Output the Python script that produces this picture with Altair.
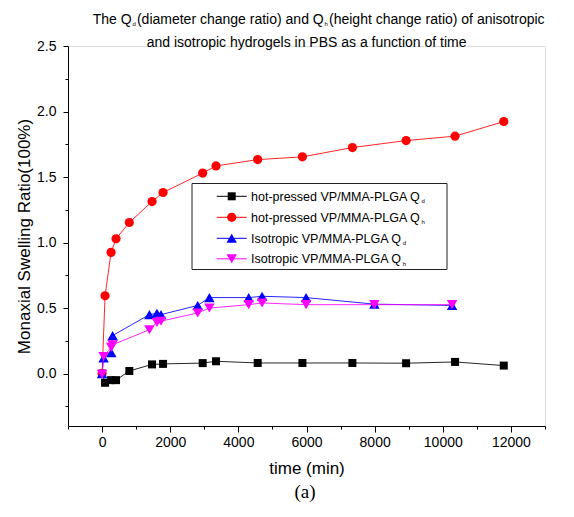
import altair as alt
import pandas as pd

# ---------------- data ----------------
hp_t = [0, 88, 264, 410, 800, 1467, 1790, 2953, 3345, 4568, 5880, 7347, 8923, 10360, 11790]
hp_qd = [0.0, -0.07, -0.05, -0.05, 0.02, 0.07, 0.074, 0.08, 0.094, 0.081, 0.081, 0.081, 0.079, 0.089, 0.061]
hp_qh = [0.0, 0.594, 0.925, 1.029, 1.153, 1.313, 1.382, 1.530, 1.585, 1.633, 1.654, 1.725, 1.778, 1.812, 1.923]

iso_t = [0, 45, 270, 310, 1390, 1610, 1730, 2807, 3150, 4303, 4696, 5988, 7992, 10273]
iso_qd = [0.0, 0.12, 0.16, 0.29, 0.45, 0.46, 0.45, 0.52, 0.58, 0.58, 0.59, 0.58, 0.53, 0.52]
iso_qh = [-0.005, 0.13, 0.20, 0.22, 0.335, 0.39, 0.40, 0.463, 0.50, 0.526, 0.539, 0.526, 0.526, 0.526]

series_main = ["hot-pressed VP/MMA-PLGA Q", "hot-pressed VP/MMA-PLGA Q",
               "Isotropic VP/MMA-PLGA Q", "Isotropic VP/MMA-PLGA Q"]
series_sub = ["d", "h", "d", "h"]
series_ids = ["hp_qd", "hp_qh", "iso_qd", "iso_qh"]
series_t = [hp_t, hp_t, iso_t, iso_t]
series_v = [hp_qd, hp_qh, iso_qd, iso_qh]
colors = ["#000000", "#ff0000", "#0000ff", "#ff00ff"]
shapes = ["square", "circle", "triangle-up", "triangle-down"]
sizes = [64, 85, 110, 110]

title1 = [("The Q", False), ("d", True), ("(diameter change ratio) and Q", False), ("h", True),
          ("(height change ratio) of anisotropic", False)]
title2 = "and isotropic hydrogels in PBS as a function of time"
x_title = "time (min)"
y_title = "Monaxial Swelling Ratio(100%)"
caption = "(a)"

FONT = "Liberation Sans, Arial, sans-serif"

# Arial advance widths (per 1000 em) for text layout of subscripts
AW = {' ': 278, '(': 333, ')': 333, '%': 889, '-': 333, '.': 278, '/': 278,
      'A': 667, 'B': 667, 'C': 722, 'D': 722, 'G': 778, 'I': 278, 'L': 556, 'M': 833,
      'P': 667, 'Q': 778, 'R': 722, 'S': 667, 'T': 611, 'V': 667,
      'a': 556, 'b': 556, 'c': 500, 'd': 556, 'e': 556, 'f': 278, 'g': 556, 'h': 556,
      'i': 222, 'l': 222, 'm': 833, 'n': 556, 'o': 556, 'p': 556, 'r': 333, 's': 500,
      't': 278, 'u': 556, 'w': 722, 'x': 500, 'y': 500}
for ch in "0123456789":
    AW[ch] = 556


def tw(s, size):
    return sum(AW.get(c, 556) for c in s) / 1000.0 * size


W, H = 477, 380

xscale = alt.Scale(domain=[-1000, 13000], nice=False, zero=False)
yscale = alt.Scale(domain=[-0.4, 2.5], nice=False, zero=False)

xaxis = alt.Axis(values=list(range(-1000, 13001, 1000)), format="d",
                 labelExpr="datum.value % 2000 == 0 ? datum.label : ''",
                 tickSize={"condition": {"test": "datum.value % 2000 != 0", "value": 3}, "value": 6},
                 grid=False, domainColor="black", tickColor="black", labelColor="black",
                 labelFont=FONT, labelFontSize=14, labelPadding=3,
                 title=x_title, titleFont=FONT, titleFontSize=17, titleFontWeight="normal",
                 titleColor="black", titlePadding=11)
yvals = [i * 0.25 for i in range(-1, 11)]
yaxis = alt.Axis(values=yvals, format=".1f",
                 labelExpr="datum.value % 0.5 == 0 ? datum.label : ''",
                 tickSize={"condition": {"test": "datum.value % 0.5 != 0", "value": 3}, "value": 5},
                 grid=False, domainColor="black", tickColor="black", labelColor="black",
                 labelFont=FONT, labelFontSize=14, labelPadding=7,
                 title=y_title, titleFont=FONT, titleFontSize=17, titleFontWeight="normal",
                 titleColor="black", titlePadding=3)

layers = []
for i, sid in enumerate(series_ids):
    df = pd.DataFrame({"t": series_t[i], "v": series_v[i]})
    enc = dict(x=alt.X("t:Q", scale=xscale, axis=xaxis),
               y=alt.Y("v:Q", scale=yscale, axis=yaxis))
    line = alt.Chart(df).mark_line(color=colors[i], strokeWidth=1, opacity=0.85).encode(**enc)
    pts = alt.Chart(df).mark_point(filled=True, opacity=1, color=colors[i], shape=shapes[i],
                                   size=sizes[i]).encode(**enc)
    layers += [line, pts]

# ---------------- legend (custom, with subscripts) ----------------
box = alt.Chart(pd.DataFrame({"a": [0]})).mark_rect(fill="white", stroke="#222222", strokeWidth=1).encode(
    x=alt.value(124), x2=alt.value(379), y=alt.value(137.5), y2=alt.value(223.5))
layers.append(box)
row_y = [150.3, 171.3, 192.3, 212.8]
LFS = 12.5
for i in range(4):
    one = pd.DataFrame({"main": [series_main[i]], "sub": [series_sub[i]]})
    ry = row_y[i]
    layers.append(alt.Chart(one).mark_rule(color=colors[i], strokeWidth=1).encode(
        x=alt.value(148.7), x2=alt.value(178.7), y=alt.value(ry)))
    layers.append(alt.Chart(one).mark_point(filled=True, opacity=1, color=colors[i], shape=shapes[i],
                                            size=sizes[i]).encode(x=alt.value(163.7), y=alt.value(ry)))
    layers.append(alt.Chart(one).mark_text(align="left", baseline="alphabetic", font=FONT,
                                           fontSize=LFS, color="black").encode(
        x=alt.value(183), y=alt.value(ry + 4.5), text="main:N"))
    sx = 183 + tw(series_main[i], LFS) + 1.0
    layers.append(alt.Chart(one).mark_text(align="left", baseline="alphabetic", font=FONT,
                                           fontSize=6, color="black").encode(
        x=alt.value(sx), y=alt.value(ry + 7), text="sub:N"))

# ---------------- title (two lines, with subscripts) ----------------
TFS, SFS = 14, 6
x = 24.7
base1 = -21.7
for txt, is_sub in title1:
    one = pd.DataFrame({"txt": [txt]})
    if is_sub:
        layers.append(alt.Chart(one).mark_text(align="left", baseline="alphabetic", font=FONT,
                                               fontSize=SFS, color="black").encode(
            x=alt.value(x + 0.8), y=alt.value(base1 + 1.6), text="txt:N"))
        x += 0.8 + tw(txt, SFS) + 1.2
    else:
        layers.append(alt.Chart(one).mark_text(align="left", baseline="alphabetic", font=FONT,
                                               fontSize=TFS, color="black").encode(
            x=alt.value(x), y=alt.value(base1), text="txt:N"))
        x += tw(txt, TFS)

layers.append(alt.Chart(pd.DataFrame({"txt": [title2]})).mark_text(
    align="left", baseline="alphabetic", font=FONT, fontSize=TFS, color="black").encode(
    x=alt.value(78.7), y=alt.value(0.8), text="txt:N"))

layers.append(alt.Chart(pd.DataFrame({"txt": [caption]})).mark_text(
    align="center", baseline="middle", font="Liberation Serif, Times New Roman, serif",
    fontSize=19, color="black").encode(x=alt.value(237), y=alt.value(446), text="txt:N"))

chart = alt.layer(*layers).properties(
    width=W, height=H,
    padding={"left": 60, "top": 38, "right": 20, "bottom": 79},
    autosize=alt.AutoSizeParams(type="none"),
).configure_view(stroke=None).configure(background="white")

chart.save("out.html", embed_options={"renderer": "svg", "actions": False})
